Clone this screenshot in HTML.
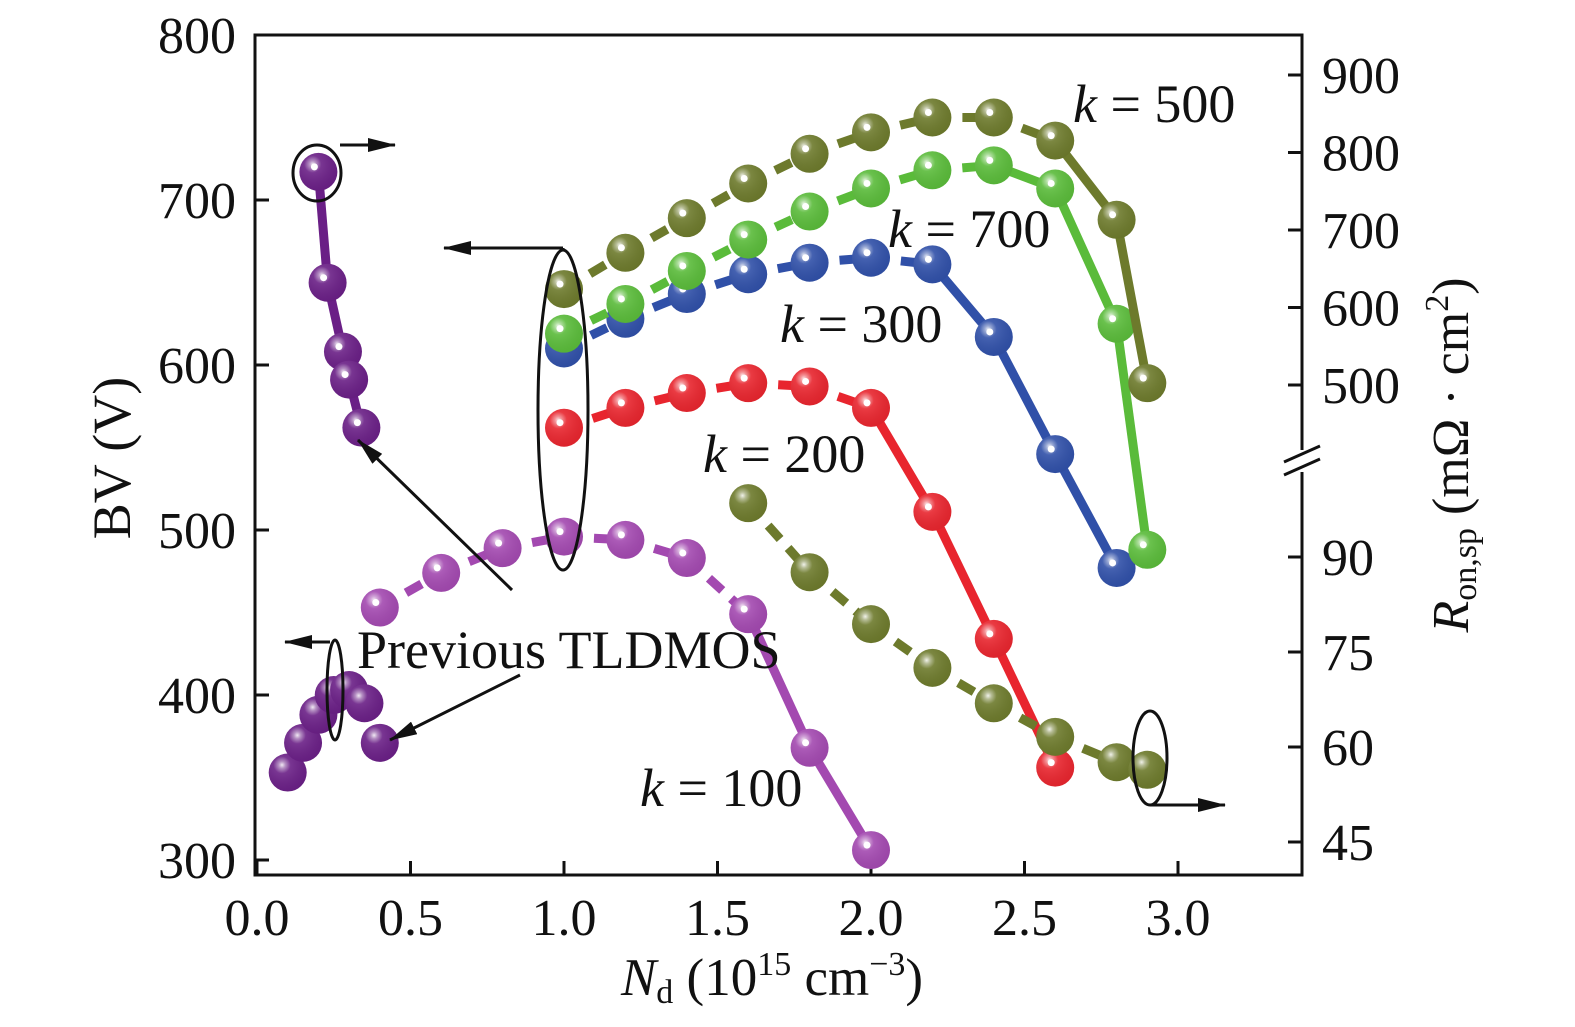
<!DOCTYPE html>
<html><head><meta charset="utf-8"><style>
body{margin:0;background:#fff}
svg text{font-family:"Liberation Serif",serif;fill:#111}
</style></head><body>
<svg id="chart" width="1575" height="1022" viewBox="0 0 1575 1022" xmlns="http://www.w3.org/2000/svg">
<defs>
<radialGradient id="gl" cx="0.35" cy="0.3" r="0.75">
<stop offset="0" stop-color="#fff" stop-opacity="0.9"/>
<stop offset="0.12" stop-color="#fff" stop-opacity="0.5"/>
<stop offset="0.3" stop-color="#fff" stop-opacity="0.1"/>
<stop offset="1" stop-color="#000" stop-opacity="0.05"/>
</radialGradient>
<marker id="ah" markerWidth="28" markerHeight="14" refX="27" refY="7" orient="auto" markerUnits="userSpaceOnUse" viewBox="0 0 28 14"><path d="M0,0 L28,7 L0,14z" fill="#111"/></marker>
</defs>
<g id="axes"></g>
<g id="series"></g>
<g id="annot"></g>
</svg>
<script>
const xTicks=[0.0,0.5,1.0,1.5,2.0,2.5,3.0];
const xTickLabels=["0.0","0.5","1.0","1.5","2.0","2.5","3.0"];
const yTicks=[300,400,500,600,700,800];
const rTicksUpper=[500,600,700,800,900];
const rTicksLower=[45,60,75,90];
const kx=[1.0,1.2,1.4,1.6,1.8,2.0,2.2,2.4,2.6,2.8,2.9];
const k100x=[0.4,0.6,0.8,1.0,1.2,1.4,1.6,1.8,2.0];
const k100=[453,474,489,496,494,483,449,368,306];
const k200=[562,574,583,589,587,574,511,434,356];
const k300=[610,628,643,655,662,665,661,617,546,477];
const k700=[619,637,657,676,693,707,718,721,707,625,488];
const k500=[646,668,689,710,728,741,750,750,736,688,589];
const prevBVx=[0.1,0.15,0.2,0.25,0.3,0.35,0.4];
const prevBV=[353,371,388,400,403,395,371];
const prevRonx=[0.2,0.23,0.28,0.3,0.34];
const prevRon=[775,632,543,507,445];
const ronx=[1.6,1.8,2.0,2.2,2.4,2.6,2.8,2.9];
const ron=[98.5,87.6,79.4,72.5,66.9,61.6,57.6,56.4];

const NS="http://www.w3.org/2000/svg";
const L=255,R=1302,T=35,B=875;
const X=v=>257+v*307;
const Y=v=>860-(v-300)*1.65;
const YU=v=>75+(900-v)*0.775;
const YL=v=>557+(90-v)*6.333;
function mk(p,tag,at){const e=document.createElementNS(NS,tag);for(const k in at)e.setAttribute(k,at[k]);p.appendChild(e);return e;}
const ax=document.getElementById('axes'),se=document.getElementById('series'),an=document.getElementById('annot');
let e;
e=mk(ax,'rect',{x:L,y:T,width:R-L,height:B-T,fill:'none',stroke:'#111','stroke-width':3});

xTicks.forEach((v,i)=>{mk(ax,'line',{x1:X(v),x2:X(v),y1:B,y2:B-14,stroke:'#111','stroke-width':3});
 e=mk(ax,'text',{x:X(v),y:935,'font-size':52,'text-anchor':'middle'});e.textContent=xTickLabels[i];
 });
yTicks.forEach(v=>{mk(ax,'line',{x1:L,x2:L+14,y1:Y(v),y2:Y(v),stroke:'#111','stroke-width':3});
 e=mk(ax,'text',{x:236,y:Y(v)+18,'font-size':52,'text-anchor':'end'});e.textContent=v;
 });
rTicksUpper.forEach(v=>{mk(ax,'line',{x1:R-14,x2:R,y1:YU(v),y2:YU(v),stroke:'#111','stroke-width':3});
 e=mk(ax,'text',{x:1322,y:YU(v)+18,'font-size':52});e.textContent=v;
 });
rTicksLower.forEach(v=>{mk(ax,'line',{x1:R-14,x2:R,y1:YL(v),y2:YL(v),stroke:'#111','stroke-width':3});
 e=mk(ax,'text',{x:1322,y:YL(v)+18,'font-size':52});e.textContent=v;
 });
mk(ax,'rect',{x:R-20,y:450,width:40,height:22,fill:'#fff'});
mk(ax,'line',{x1:R-18,x2:R+18,y1:462,y2:446,stroke:'#111','stroke-width':3});
mk(ax,'line',{x1:R-18,x2:R+18,y1:475,y2:459,stroke:'#111','stroke-width':3});
e=mk(ax,'text',{x:772,y:995,'font-size':53,'text-anchor':'middle'});
e.innerHTML='<tspan font-style="italic">N</tspan><tspan font-size="34" dy="8">d</tspan><tspan dy="-8"> (10</tspan><tspan font-size="34" dy="-20">15</tspan><tspan dy="20"> cm</tspan><tspan font-size="34" dy="-20">−3</tspan><tspan dy="20">)</tspan>';

e=mk(ax,'text',{x:0,y:0,'font-size':54,'text-anchor':'middle',transform:'translate(130,458) rotate(-90)'});e.textContent='BV (V)';

e=mk(ax,'text',{x:0,y:0,'font-size':52,'text-anchor':'middle',transform:'translate(1468,455) rotate(-90)'});
e.innerHTML='<tspan font-style="italic">R</tspan><tspan font-size="34" dy="8">on,sp</tspan><tspan dy="-8"> (mΩ · cm</tspan><tspan font-size="34" dy="-20">2</tspan><tspan dy="20">)</tspan>';


function series(name,xs,ys,fy,color,dashEnd,dots){
 const g=mk(se,'g',{});
 for(let i=0;i<xs.length-1&&i<ys.length-1;i++){
  const a={x1:X(xs[i]),y1:fy(ys[i]),x2:X(xs[i+1]),y2:fy(ys[i+1]),stroke:color,'stroke-width':9};
  if(i<dashEnd)a['stroke-dasharray']='18 12';
  if(dashEnd>=0)mk(g,'line',a);
 }
 ys.forEach((v,i)=>{const cx=X(xs[i]),cy=fy(v);
  const c=mk(g,'circle',{cx:cx,cy:cy,r:19,fill:color});
  
  mk(g,'circle',{cx:cx,cy:cy,r:19,fill:'url(#gl)'});
  if(dots)mk(g,'circle',{cx:cx-4,cy:cy-5,r:3.5,fill:'#fff'});
 });
}
series('k100-series',k100x,k100,Y,'#a349b0',6,true);
series('k200-series',kx,k200,Y,'#e8252e',5,true);
series('k300-series',kx,k300,Y,'#3050a8',6,true);
series('k700-series',kx,k700,Y,'#5abb3a',7,true);
series('k500-series',kx,k500,Y,'#6d7a2c',8,true);
series('ron-series',ronx,ron,YL,'#6d7a2c',99,false);
series('prev-ron-series',prevRonx,prevRon,YU,'#6a1f86',0,true);
series('prev-bv-series',prevBVx,prevBV,Y,'#6a1f86',-1,false);

function txt(x,y,html,name){const t=mk(an,'text',{x:x,y:y,'font-size':54});t.innerHTML=html;}
txt(1073,122,'<tspan font-style="italic">k</tspan> = 500','label-k500');
txt(888,247,'<tspan font-style="italic">k</tspan> = 700','label-k700');
txt(780,342,'<tspan font-style="italic">k</tspan> = 300','label-k300');
txt(703,472,'<tspan font-style="italic">k</tspan> = 200','label-k200');
txt(640,806,'<tspan font-style="italic">k</tspan> = 100','label-k100');
txt(357,668,'Previous TLDMOS','label-previous-tldmos');
function ell(cx,cy,rx,ry,n){const el=mk(an,'ellipse',{cx:cx,cy:cy,rx:rx,ry:ry,fill:'none',stroke:'#111','stroke-width':3});}
function arr(x1,y1,x2,y2,n){const l=mk(an,'line',{x1:x1,y1:y1,x2:x2,y2:y2,stroke:'#111','stroke-width':3,'marker-end':'url(#ah)'});}
ell(317,173,24,28,'prev-ron-ellipse');
arr(340,145,395,145,'prev-ron-arrow');
ell(563,410,25,160,'bv-ellipse');
mk(an,'line',{x1:563,y1:250,x2:563,y2:248,stroke:'#111','stroke-width':3});
arr(563,248,444,248,'bv-arrow');
ell(335,690,8,50,'prev-bv-ellipse');
arr(330,642,285,642,'prev-bv-arrow');
ell(1150,758,17,47,'ron-ellipse');
arr(1150,805,1225,805,'ron-arrow');
arr(512,590,358,440,'prev-pointer-1');
arr(520,675,390,740,'prev-pointer-2');
</script>
</body></html>
